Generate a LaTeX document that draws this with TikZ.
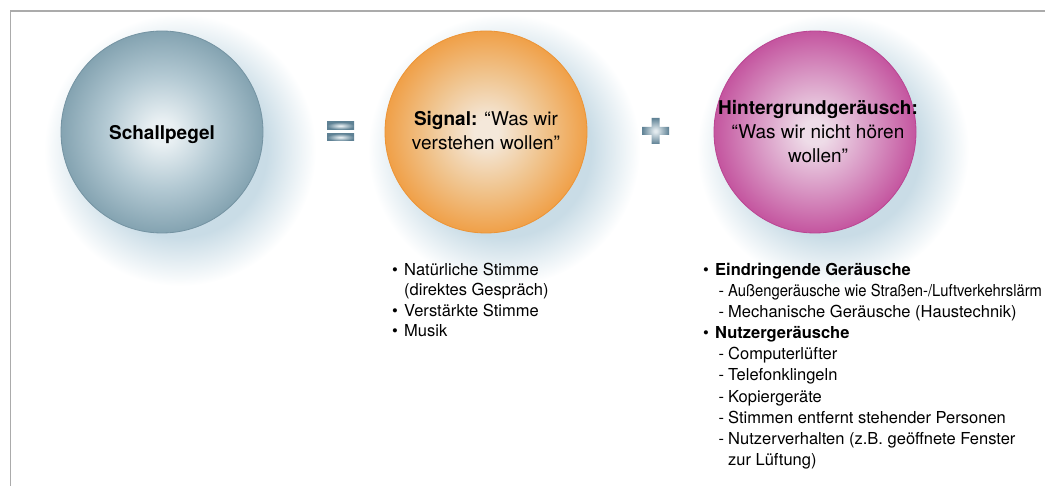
\documentclass[tikz,border=0pt]{standalone}
\usepackage{fontspec}
\setmainfont{TeX Gyre Heros}
\usepackage{graphicx}
\definecolor{framegray}{HTML}{ABABAB}
\definecolor{bB1}{HTML}{E9F0F3}
\definecolor{bB2}{HTML}{B3C9D3}
\definecolor{bB3}{HTML}{84A3B1}
\definecolor{bBe}{HTML}{7493A2}
\definecolor{bO1}{HTML}{F4E8DA}
\definecolor{bO2}{HTML}{F0C590}
\definecolor{bO3}{HTML}{F0A048}
\definecolor{bOe}{HTML}{EC9436}
\definecolor{bM1}{HTML}{EEDCE8}
\definecolor{bM2}{HTML}{D999C5}
\definecolor{bM3}{HTML}{C4559F}
\definecolor{bMe}{HTML}{BA4592}
\definecolor{haloc}{HTML}{C9DCE6}
\definecolor{barL}{HTML}{E3EBEF}
\definecolor{barD}{HTML}{5E8194}
\pgfdeclareradialshading{ballB}{\pgfpoint{0bp}{0bp}}{color(0bp)=(bB1); color(3bp)=(bB1); color(14bp)=(bB2); color(25bp)=(bB3); color(50bp)=(bB3)}
\pgfdeclareradialshading{ballO}{\pgfpoint{0bp}{0bp}}{color(0bp)=(bO1); color(3bp)=(bO1); color(14bp)=(bO2); color(25bp)=(bO3); color(50bp)=(bO3)}
\pgfdeclareradialshading{ballM}{\pgfpoint{0bp}{0bp}}{color(0bp)=(bM1); color(3bp)=(bM1); color(14bp)=(bM2); color(25bp)=(bM3); color(50bp)=(bM3)}
\pgfdeclareradialshading{halo}{\pgfpoint{0bp}{0bp}}{color(0bp)=(haloc); color(16bp)=(haloc); color(25bp)=(white); color(50bp)=(white)}
\pgfdeclareradialshading{barS}{\pgfpoint{0bp}{0bp}}{color(0bp)=(barL); color(2.5bp)=(barL); color(25bp)=(barD); color(50bp)=(barD)}
\tikzset{
  ball/.style={circle, minimum size=202pt, inner sep=0pt, line width=0.8pt},
  title/.style={align=center, inner sep=0pt, font=\fontsize{19}{24}\selectfont},
  listtxt/.style={anchor=base west, inner sep=0pt, font=\fontsize{16.5}{20}\selectfont},
}
\newcommand{\bul}{\makebox[12pt][l]{\textbullet}}
\newcommand{\dsh}{\makebox[9.5pt][l]{-}}
\begin{document}
\begin{tikzpicture}[x=1pt,y=-1pt]
\useasboundingbox (0,0) rectangle (1045,486);
% halos
\shade[shading=halo] (180,150) circle (136pt);
\shade[shading=halo] (504,150) circle (136pt);
\shade[shading=halo] (833,150) circle (136pt);
% frame
\draw[framegray, line width=1.4pt] (10.5,486) -- (10.5,11) -- (1045,11);
% balls
\node[ball, shading=ballB, draw=bBe] (schall) at (162,132) {};
\node[ball, shading=ballO, draw=bOe] (signal) at (486,132) {};
\node[ball, shading=ballM, draw=bMe] (hinter) at (815,132) {};
% titles
\node[title] (schallT) at (162,134.5) {\textbf{Schallpegel}};
\node[title] (signalT) at (486,131) {\textbf{Signal:} “Was wir\\verstehen wollen”};
\node[title] (hinterT) at (818,132) {\textbf{Hintergrundgeräusch:}\\“Was wir nicht hören\\wollen”};
% equals
\shade[shading=barS] (327,122) rectangle (354,129.5);
\shade[shading=barS] (327,133.5) rectangle (354,141);
% plus
\shade[shading=barS] (651.5,118) -- (659.5,118) -- (659.5,127) -- (669,127) -- (669,135) -- (659.5,135) -- (659.5,144) -- (651.5,144) -- (651.5,135) -- (642,135) -- (642,127) -- (651.5,127) -- cycle;
% signal list
\node[listtxt] (s1) at (392,275.5) {\bul Natürliche Stimme};
\node[listtxt] (s2) at (404,296) {(direktes Gespräch)};
\node[listtxt] (s3) at (392,316.5) {\bul Verstärkte Stimme};
\node[listtxt] (s4) at (392,337) {\bul Musik};
% background noise list
\node[listtxt] (r1) at (703,275.5) {\bul\textbf{Eindringende Geräusche}};
\node[listtxt] (r2) at (718.5,296.6) {\dsh\scalebox{0.895}[1]{Außengeräusche wie Straßen-/Luftverkehrslärm}};
\node[listtxt] (r3) at (718.5,317.7) {\dsh Mechanische Geräusche (Haustechnik)};
\node[listtxt] (r4) at (703,338.8) {\bul\textbf{Nutzergeräusche}};
\node[listtxt] (r5) at (718.5,359.9) {\dsh Computerlüfter};
\node[listtxt] (r6) at (718.5,381) {\dsh Telefonklingeln};
\node[listtxt] (r7) at (718.5,402.1) {\dsh Kopiergeräte};
\node[listtxt] (r8) at (718.5,423.2) {\dsh Stimmen entfernt stehender Personen};
\node[listtxt] (r9) at (718.5,444.3) {\dsh Nutzerverhalten (z.B. geöffnete Fenster};
\node[listtxt] (r10) at (728,465.4) {zur Lüftung)};
\end{tikzpicture}
\end{document}
